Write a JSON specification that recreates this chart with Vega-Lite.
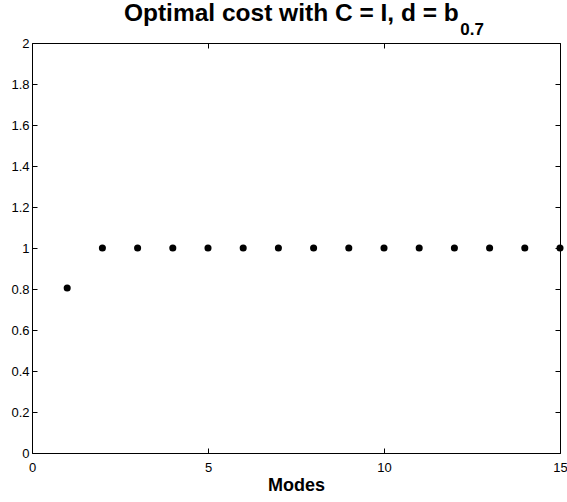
{
  "$schema": "https://vega.github.io/schema/vega-lite/v6.json",
  "autosize": {"type": "none"},
  "padding": {"left": 32, "top": 43, "right": 7, "bottom": 49},
  "width": 528,
  "height": 410,
  "background": "white",
  "title": {
    "text": "Optimal cost with C = I, d = b",
    "subtitle": "\u200b\u2003\u2003\u2003\u2003\u2003\u2003\u2003\u2003\u2003\u2003\u2003\u2003\u2003\u2003\u2003\u2003\u2003\u2003\u2003\u2002\u2009\u200a0.7",
    "font": "Liberation Sans",
    "fontSize": 24.5,
    "fontWeight": "bold",
    "color": "black",
    "subtitleFont": "Liberation Sans",
    "subtitleFontSize": 17,
    "subtitleFontWeight": "bold",
    "subtitleColor": "black",
    "subtitlePadding": -4,
    "offset": -2,
    "anchor": "start",
    "dx": 113
  },
  "data": {
    "values": [
      {"mode": 1, "cost": 0.805},
      {"mode": 2, "cost": 1},
      {"mode": 3, "cost": 1},
      {"mode": 4, "cost": 1},
      {"mode": 5, "cost": 1},
      {"mode": 6, "cost": 1},
      {"mode": 7, "cost": 1},
      {"mode": 8, "cost": 1},
      {"mode": 9, "cost": 1},
      {"mode": 10, "cost": 1},
      {"mode": 11, "cost": 1},
      {"mode": 12, "cost": 1},
      {"mode": 13, "cost": 1},
      {"mode": 14, "cost": 1},
      {"mode": 15, "cost": 1}
    ]
  },
  "config": {
    "view": {"stroke": "black", "strokeWidth": 1},
    "axis": {
      "grid": false,
      "domain": false,
      "tickColor": "black",
      "tickSize": -5,
      "labelFont": "Liberation Sans",
      "labelFontSize": 13,
      "labelColor": "black",
      "titleFont": "Liberation Sans",
      "titleFontSize": 18,
      "titleFontWeight": "bold",
      "titleColor": "black"
    }
  },
  "resolve": {"axis": {"x": "independent", "y": "independent"}},
  "layer": [
    {
      "mark": {"type": "point", "filled": true, "color": "black", "opacity": 1, "size": 50, "clip": false},
      "encoding": {
        "x": {
          "field": "mode", "type": "quantitative",
          "scale": {"domain": [0, 15], "nice": false, "zero": false},
          "axis": {"values": [0, 5, 10, 15], "title": "Modes", "labelPadding": 13, "titlePadding": 2, "labelFlush": false}
        },
        "y": {
          "field": "cost", "type": "quantitative",
          "scale": {"domain": [0, 2], "nice": false},
          "axis": {"values": [0, 0.2, 0.4, 0.6, 0.8, 1, 1.2, 1.4, 1.6, 1.8, 2], "format": "~g", "title": null, "labelPadding": 8, "labelFlush": false}
        }
      }
    },
    {
      "mark": {"type": "point", "opacity": 0},
      "encoding": {
        "x": {
          "field": "mode", "type": "quantitative",
          "scale": {"domain": [0, 15], "nice": false, "zero": false},
          "axis": {"orient": "top", "values": [0, 5, 10, 15], "labels": false, "title": null}
        },
        "y": {
          "field": "cost", "type": "quantitative",
          "scale": {"domain": [0, 2], "nice": false},
          "axis": {"orient": "right", "values": [0, 0.2, 0.4, 0.6, 0.8, 1, 1.2, 1.4, 1.6, 1.8, 2], "labels": false, "title": null}
        }
      }
    }
  ]
}
